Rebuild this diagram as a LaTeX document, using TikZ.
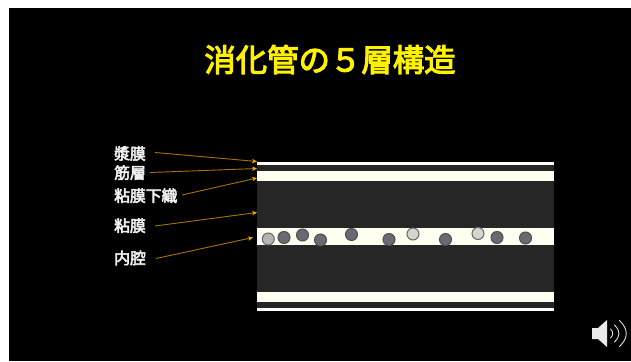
\documentclass[tikz,border=0pt]{standalone}
\usepackage{fontspec}
\newfontfamily\cjk[FakeBold=3.5]{Noto Sans CJK JP}
\newfontfamily\cjkt[FakeBold=3.5]{Noto Sans CJK JP}
\usetikzlibrary{arrows.meta}
\definecolor{cream}{HTML}{FEFFF0}
\definecolor{wall}{HTML}{262626}
\definecolor{cellD}{HTML}{6A6A72}
\definecolor{cellDe}{HTML}{4E4E4E}
\definecolor{cellL}{HTML}{D5D5D0}
\definecolor{cellM}{HTML}{B4B4B4}
\definecolor{leader}{HTML}{A87400}
\definecolor{tipc}{HTML}{F5A800}
\definecolor{labc}{HTML}{F0F0F0}
\tikzset{
 x=1pt,y=-1pt,
 lab/.style={inner sep=0pt,anchor=west,text=labc,font=\cjk\fontsize{15.8}{16}\selectfont},
 ttl/.style={inner sep=0pt,text={yellow},font=\cjkt\fontsize{31.4}{32}\selectfont},
 lead/.style={draw=leader,line width=0.9pt,-{Stealth[length=5pt,width=4.5pt,color=tipc]}},
 band/.style={draw=none},
 cell/.style={circle,inner sep=0pt,minimum size=12pt,draw=cellDe,line width=1pt,fill=cellD},
 lcell/.style={cell,fill=cellL,draw=gray!80!black},
 mcell/.style={cell,fill=cellM,draw=gray!80!black},
 wave/.style={draw=white!88!black,line width=0.9pt,line cap=round},
}
\begin{document}
\begin{tikzpicture}
\useasboundingbox (0,0) rectangle (631,361);
\fill[white] (0,0) rectangle (631,361);
\fill[black] (9,8) rectangle (631,361);
\node[ttl] (title) at (330,59.5) {消化管の５層構造};
% layers
\fill[band,white] (257,162) rectangle (554,165);
\fill[band,wall] (257,165) rectangle (554,171);
\fill[band,cream] (257,171) rectangle (554,181);
\fill[band,wall] (257,181) rectangle (554,228);
\fill[band,cream] (257,228) rectangle (554,245);
\fill[band,wall] (257,245) rectangle (554,292);
\fill[band,cream] (257,292) rectangle (554,302);
\fill[band,wall] (257,302) rectangle (554,308);
\fill[band,white] (257,308) rectangle (554,311);
% cells
\node[mcell] (c1) at (268.3,239) {};
\node[cell] (c2) at (284,237.5) {};
\node[cell] (c3) at (302.5,235) {};
\node[cell] (c4) at (320.5,240) {};
\node[cell] (c5) at (351.5,234.5) {};
\node[cell] (c6) at (389,239.5) {};
\node[lcell] (c7) at (413,234) {};
\node[cell] (c8) at (445.5,239.5) {};
\node[lcell] (c9) at (478,233.5) {};
\node[cell] (c10) at (497,237.5) {};
\node[cell] (c11) at (525.5,238) {};
% labels
\node[lab] (a) at (114,153.5) {漿膜};
\node[lab] (b) at (114,172.7) {筋層};
\node[lab] (c) at (114,195.7) {粘膜下織};
\node[lab] (d) at (114,225.7) {粘膜};
\node[lab] (e) at (114,258) {内腔};
\coordinate (a0) at (155,152.5); \coordinate (a1) at (257,161.5);
\coordinate (b0) at (150,172.5); \coordinate (b1) at (257,168.5);
\coordinate (c0) at (182,195); \coordinate (c1t) at (257,178);
\coordinate (d0) at (155,226); \coordinate (d1) at (257,212.5);
\coordinate (e0) at (156,258.5); \coordinate (e1) at (253,237.5);
\draw[lead] (a0) -- (a1);
\draw[lead] (b0) -- (b1);
\draw[lead] (c0) -- (c1t);
\draw[lead] (d0) -- (d1);
\draw[lead] (e0) -- (e1);
% speaker
\fill[white!92!black] (592,328) -- (598,328) -- (607,320) -- (607,347) -- (598,339) -- (592,339) -- cycle;
\draw[wave] (610.5,329) .. controls (613.5,332) and (613.5,335) .. (610.5,338);
\draw[wave] (614.5,325) .. controls (620.5,331) and (620.5,336) .. (614.5,342);
\draw[wave] (619.5,320.5) .. controls (628.5,329) and (628.5,338) .. (619.5,346.5);
\end{tikzpicture}
\end{document}
